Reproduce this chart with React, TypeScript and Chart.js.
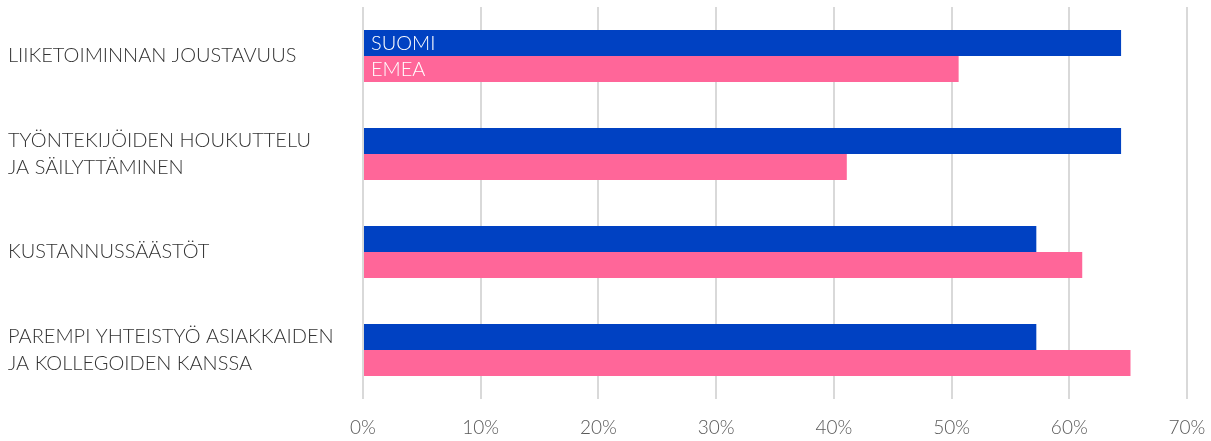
import React, { useEffect, useRef } from "react";
import { Chart, registerables } from "chart.js";

Chart.register(...registerables);

const categories: (string | string[])[] = [
  "LIIKETOIMINNAN JOUSTAVUUS",
  ["TYÖNTEKIJÖIDEN HOUKUTTELU", "JA SÄILYTTÄMINEN"],
  "KUSTANNUSSÄÄSTÖT",
  ["PAREMPI YHTEISTYÖ ASIAKKAIDEN", "JA KOLLEGOIDEN KANSSA"],
];
const seriesNames = ["SUOMI", "EMEA"];
const suomiValues = [64.4, 64.4, 57.2, 57.2];
const emeaValues = [50.6, 41.1, 61.1, 65.2];
const xTicks = [0, 10, 20, 30, 40, 50, 60, 70];

const FONT = "Lato, 'Open Sans', sans-serif";

const barNamePlugin = {
  id: "barNames",
  afterDatasetsDraw(chart: any) {
    const ctx = chart.ctx;
    ctx.save();
    ctx.fillStyle = "#ffffff";
    ctx.font = `300 20px ${FONT}`;
    ctx.textAlign = "left";
    ctx.textBaseline = "middle";
    chart.data.datasets.forEach((ds: any, i: number) => {
      const meta = chart.getDatasetMeta(i);
      const el = meta.data[0];
      if (!el) return;
      ctx.fillText(ds.label, el.base + 7, el.y + 1);
    });
    ctx.restore();
  },
};

export default function App() {
  const ref = useRef<HTMLCanvasElement>(null);
  useEffect(() => {
    if (!ref.current) return;
    const chart = new Chart(ref.current, {
      type: "bar",
      data: {
        labels: categories,
        datasets: [
          {
            label: seriesNames[0],
            data: suomiValues,
            backgroundColor: "#0041C2",
            categoryPercentage: 0.53,
            barPercentage: 1,
          },
          {
            label: seriesNames[1],
            data: emeaValues,
            backgroundColor: "#FF6699",
            categoryPercentage: 0.53,
            barPercentage: 1,
          },
        ],
      },
      options: {
        indexAxis: "y",
        animation: false,
        responsive: true,
        maintainAspectRatio: false,
        layout: { padding: { top: 7, left: 8, right: 24, bottom: 0 } },
        plugins: { legend: { display: false }, tooltip: { enabled: false } },
        scales: {
          x: {
            min: 0,
            max: 70,
            afterBuildTicks(scale: any) {
              scale.ticks = xTicks.map((v) => ({ value: v }));
            },
            afterFit(scale: any) {
              scale.height = 42;
              scale.paddingLeft = 0;
              scale.paddingRight = 0;
            },
            grid: { color: "#D9D9D9", lineWidth: 2, drawTicks: false },
            border: { display: false },
            ticks: {
              padding: 17,
              color: "#595959",
              font: { family: FONT, size: 19, weight: "300" },
              callback: (v: any) => `${v}%`,
            },
          },
          y: {
            afterFit(scale: any) {
              scale.width = 355;
              scale.paddingTop = 0;
              scale.paddingBottom = 0;
            },
            grid: { display: false },
            border: { display: false },
            ticks: {
              crossAlign: "far",
              color: "#333333",
              font: { family: FONT, size: 20, weight: "300", lineHeight: 1.35 },
            },
          },
        },
      },
      plugins: [barNamePlugin],
    });
    return () => chart.destroy();
  }, []);
  return (
    <div style={{ position: "fixed", left: 0, top: 0, width: 1211, height: 441, background: "#fff" }}>
      <canvas ref={ref} />
    </div>
  );
}
